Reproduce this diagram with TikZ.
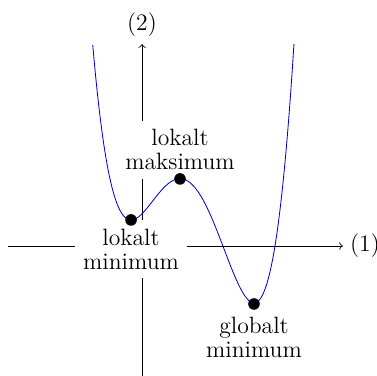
\documentclass[tikz,border=0pt]{standalone}
\begin{document}
\begin{tikzpicture}[
    font=\fontsize{11.4}{11.6}\selectfont,
    axis/.style={->, thin},
    curve/.style={blue!85!black, thin, domain=-0.835:2.575, samples=200, smooth},
    dot/.style={circle, fill=black, inner sep=0pt, minimum size=5.6pt},
    lbl/.style={fill=white, align=center, inner sep=4pt},
  ]
    \useasboundingbox (-2.407,-2.203) rectangle (3.983,4.169);

    % Extremal points --------------------------------------------------------
    \coordinate (lmin) at (-0.186,0.441);
    \coordinate (lmax) at (0.644,1.136);
    \coordinate (gmin) at (1.898,-0.983);

    % Axes -------------------------------------------------------------------
    \coordinate (xstart) at (-2.27,0);
    \coordinate (ystart) at (0,-2.2);
    \node (xlabel) at (3.78,0)  {(1)};
    \node (ylabel) at (0,3.746) {(2)};
    \draw[axis] (xstart) -- (xlabel);
    \draw[axis] (ystart) -- (ylabel);

    % Labels -----------------------------------------------------------------
    \node[lbl, anchor=north]            (lminlabel) at (lmin) {lokalt\\minimum};
    \node[lbl, anchor=south]            (lmaxlabel) at (lmax) {lokalt\\maksimum};
    \node[lbl, anchor=north, yshift=-2pt] (gminlabel) at (gmin) {globalt\\minimum};

    % Curve ------------------------------------------------------------------
    \draw[curve] plot (\x, {1.1*(\x*(\x*(\x*(\x-3.1413)+1.499)+0.9096))+0.5465});

    % Dots -------------------------------------------------------------------
    \node[dot] (lmindot) at (lmin) {};
    \node[dot] (lmaxdot) at (lmax) {};
    \node[dot] (gmindot) at (gmin) {};
  \end{tikzpicture}
\end{document}
